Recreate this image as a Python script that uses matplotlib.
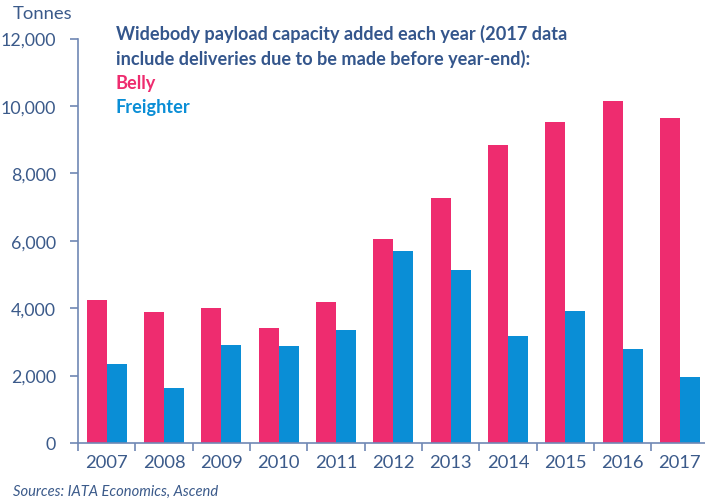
import matplotlib
matplotlib.use("Agg")
import matplotlib.pyplot as plt
import numpy as np

years = ["2007", "2008", "2009", "2010", "2011", "2012", "2013", "2014", "2015", "2016", "2017"]
belly = [4250, 3880, 4000, 3400, 4170, 6050, 7270, 8830, 9530, 10150, 9650]
freighter = [2350, 1620, 2900, 2890, 3360, 5700, 5130, 3180, 3930, 2800, 1970]
yticks = [0, 2000, 4000, 6000, 8000, 10000, 12000]

BELLY_C = "#EE2C6F"
FREIGHT_C = "#0A8ED6"
TEXT_C = "#3B5A8A"
TITLE_C = "#34568C"
AXIS_C = "#7088B4"

plt.rcParams['font.family'] = ['Lato', 'DejaVu Sans']

fig = plt.figure(figsize=(7.05, 5.02), dpi=100)
ax = fig.add_axes([78/705, 58/502, (708.5-78)/705, (444-39.5)/502])

x = np.arange(len(years))
w = 0.349
ax.bar(x - w/2, belly, width=w, color=BELLY_C, zorder=2)
ax.bar(x + w/2, freighter, width=w, color=FREIGHT_C, zorder=2)

ax.set_xlim(-0.5, len(years) - 0.5)
ax.set_ylim(0, 12000)
ax.set_yticks(yticks)
ax.set_yticklabels([f"{v:,}" for v in yticks])
ax.set_xticks(np.arange(len(years) + 1) - 0.5, minor=False)
ax.set_xticklabels([""] * (len(years) + 1))
ax.set_xticks(x, minor=True)
ax.set_xticklabels(years, minor=True)
ax.tick_params(axis='x', which='minor', length=0, pad=8, labelsize=13.2, labelcolor=TEXT_C)
ax.tick_params(axis='x', which='major', length=6, width=1.2, color=AXIS_C, direction='out')
ax.tick_params(axis='y', length=6, width=1.2, color=AXIS_C, direction='out', pad=10,
               labelsize=12.8, labelcolor=TEXT_C)

for s in ['top', 'right']:
    ax.spines[s].set_visible(False)
for s in ['left', 'bottom']:
    ax.spines[s].set_color(AXIS_C)
    ax.spines[s].set_linewidth(1.2)

fig.text(13/705, 1 - 14/502, "Tonnes", fontsize=13.3, color=TEXT_C, va='center', ha='left')
fig.text(116/705, 1 - 34/502, "Widebody payload capacity added each year (2017 data",
         fontsize=13.1, fontweight='bold', color=TITLE_C, va='center', ha='left')
fig.text(116/705, 1 - 58.5/502, "include deliveries due to be made before year-end):",
         fontsize=13.1, fontweight='bold', color=TITLE_C, va='center', ha='left')
fig.text(116/705, 1 - 83/502, "Belly", fontsize=13.1, fontweight='bold', color=BELLY_C,
         va='center', ha='left')
fig.text(116/705, 1 - 107/502, "Freighter", fontsize=13.1, fontweight='bold', color=FREIGHT_C,
         va='center', ha='left')
fig.text(13/705, 1 - 492/502, "Sources: IATA Economics, Ascend", fontsize=10.6, style='italic',
         color=TEXT_C, va='center', ha='left')

fig.savefig("out.png", dpi=100)
